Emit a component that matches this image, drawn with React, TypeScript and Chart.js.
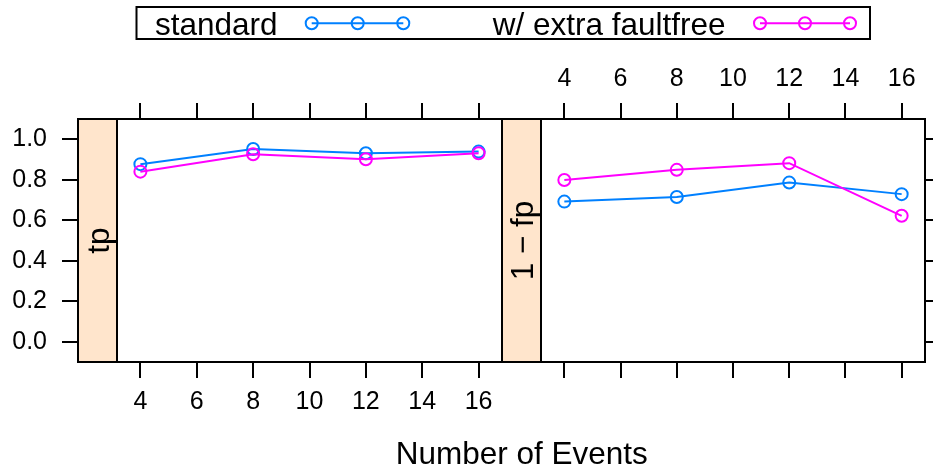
import React, { useEffect, useRef } from 'react';
import { Chart, registerables } from 'chart.js';

Chart.register(...registerables);

// ---------- data ----------
const xValues = [4, 8, 12, 16];
const xTickValues = [4, 6, 8, 10, 12, 14, 16];
const yTickValues = [0, 0.2, 0.4, 0.6, 0.8, 1.0];
const seriesNames = ['standard', 'w/ extra faultfree'];
const seriesColors = ['#0080ff', '#ff00ff'];
const panelNames = ['tp', '1 \u2212 fp'];
const tpStandard = [0.877, 0.952, 0.931, 0.939];
const tpExtra = [0.840, 0.926, 0.901, 0.931];
const fpStandard = [0.692, 0.715, 0.786, 0.729];
const fpExtra = [0.799, 0.849, 0.882, 0.622];
const xAxisTitle = 'Number of Events';

const X_MIN = 3.17;
const X_MAX = 16.83;
const Y_MIN = -0.1;
const Y_MAX = 1.1;

const FONT = '"Liberation Sans", Arial, Helvetica, sans-serif';
const TICK_FONT = { family: FONT, size: 25 };
const BIG = 31.5;

const setTicks = (vals: number[]) => (s: any) => {
  s.ticks = vals.map((v) => ({ value: v }));
};

const gridTicks = {
  drawOnChartArea: false,
  drawTicks: true,
  tickLength: 16,
  color: '#000',
  lineWidth: 2,
};

function makeDatasets(std: number[], extra: number[]) {
  const vals = [std, extra];
  return vals.map((arr, i) => ({
    label: seriesNames[i],
    data: xValues.map((x, j) => ({ x, y: arr[j] })),
    borderColor: seriesColors[i],
    backgroundColor: seriesColors[i],
    borderWidth: 2,
    pointRadius: 6,
    pointHoverRadius: 6,
    pointBorderWidth: 2,
    pointBackgroundColor: 'rgba(0,0,0,0)',
    pointBorderColor: seriesColors[i],
    fill: false,
    tension: 0,
    order: i === 0 ? 1 : 0,
  }));
}

function panelPlugin(name: string, withExtras: boolean) {
  return {
    id: 'panel_' + name.replace(/\W/g, ''),
    afterDraw(chart: any) {
      const ctx = chart.ctx as CanvasRenderingContext2D;
      const ca = chart.chartArea;
      const strip = chart.scales.ystrip;
      ctx.save();
      // strip
      ctx.fillStyle = '#ffe5cc';
      ctx.fillRect(strip.left, ca.top, strip.right - strip.left, ca.bottom - ca.top);
      ctx.strokeStyle = '#000';
      ctx.lineWidth = 2;
      ctx.strokeRect(strip.left, ca.top, strip.right - strip.left, ca.bottom - ca.top);
      ctx.strokeRect(ca.left, ca.top, ca.right - ca.left, ca.bottom - ca.top);
      // strip label
      ctx.save();
      ctx.translate(strip.right - 8.3, (ca.top + ca.bottom) / 2);
      ctx.rotate(-Math.PI / 2);
      ctx.font = `${BIG}px ${FONT}`;
      ctx.fillStyle = '#000';
      ctx.textAlign = 'center';
      ctx.textBaseline = 'alphabetic';
      ctx.fillText(name, 0, 0);
      ctx.restore();

      if (withExtras) {
        // legend
        ctx.lineWidth = 2;
        ctx.strokeStyle = '#000';
        ctx.strokeRect(136.5, 7, 733.5, 32);
        ctx.font = `${BIG}px ${FONT}`;
        ctx.fillStyle = '#000';
        ctx.textAlign = 'left';
        ctx.textBaseline = 'alphabetic';
        const items = [
          { textX: 155, symX: [311.7, 357.7, 403.3] },
          { textX: 492.7, symX: [760, 805, 850] },
        ];
        items.forEach((it, i) => {
          ctx.fillStyle = '#000';
          ctx.fillText(seriesNames[i], it.textX, 35);
          ctx.strokeStyle = seriesColors[i];
          ctx.lineWidth = 2;
          ctx.beginPath();
          ctx.moveTo(it.symX[0], 23.3);
          ctx.lineTo(it.symX[it.symX.length - 1], 23.3);
          ctx.stroke();
          it.symX.forEach((sx) => {
            ctx.beginPath();
            ctx.arc(sx, 23.3, 6, 0, Math.PI * 2);
            ctx.stroke();
          });
        });
        // x axis title
        ctx.fillStyle = '#000';
        ctx.textAlign = 'center';
        ctx.font = `${BIG}px ${FONT}`;
        ctx.fillText(xAxisTitle, 521.7, 464.3);
      }
      ctx.restore();
    },
  };
}

function stripScale() {
  return {
    type: 'linear',
    position: 'left',
    weight: 0,
    display: true,
    min: 0,
    max: 1,
    ticks: { display: false },
    grid: { display: false },
    border: { display: false },
    afterFit: (s: any) => {
      s.width = 39;
    },
  };
}

function config1(): any {
  return {
    type: 'line',
    data: { datasets: makeDatasets(tpStandard, tpExtra) },
    plugins: [panelPlugin(panelNames[0], true)],
    options: {
      animation: false,
      responsive: false,
      events: [],
      layout: { padding: { left: 0, right: 431, top: 103, bottom: 57 } },
      plugins: { legend: { display: false }, tooltip: { enabled: false } },
      scales: {
        x: {
          type: 'linear',
          position: 'bottom',
          min: X_MIN,
          max: X_MAX,
          afterBuildTicks: setTicks(xTickValues),
          ticks: { font: TICK_FONT, color: '#000', padding: 9, maxRotation: 0, autoSkip: false, callback: (v: any) => String(v) },
          grid: gridTicks,
          border: { display: false },
          afterFit: (s: any) => {
            s.height = 50;
          },
        },
        xTop: {
          type: 'linear',
          position: 'top',
          min: X_MIN,
          max: X_MAX,
          afterBuildTicks: setTicks(xTickValues),
          ticks: { display: false },
          grid: gridTicks,
          border: { display: false },
          afterFit: (s: any) => {
            s.height = 16;
          },
        },
        y: {
          type: 'linear',
          position: 'left',
          weight: 1,
          min: Y_MIN,
          max: Y_MAX,
          afterBuildTicks: setTicks(yTickValues),
          ticks: { font: TICK_FONT, color: '#000', padding: 15, callback: (v: any) => Number(v).toFixed(1) },
          grid: gridTicks,
          border: { display: false },
          afterFit: (s: any) => {
            s.width = 78;
          },
        },
        ystrip: stripScale(),
      },
    },
  };
}

function config2(): any {
  return {
    type: 'line',
    data: { datasets: makeDatasets(fpStandard, fpExtra) },
    plugins: [panelPlugin(panelNames[1], false)],
    options: {
      animation: false,
      responsive: false,
      events: [],
      layout: { padding: { left: 502, right: 0, top: 50, bottom: 91 } },
      plugins: { legend: { display: false }, tooltip: { enabled: false } },
      scales: {
        x: {
          type: 'linear',
          position: 'bottom',
          min: X_MIN,
          max: X_MAX,
          afterBuildTicks: setTicks(xTickValues),
          ticks: { display: false },
          grid: gridTicks,
          border: { display: false },
          afterFit: (s: any) => {
            s.height = 16;
          },
        },
        xTop: {
          type: 'linear',
          position: 'top',
          min: X_MIN,
          max: X_MAX,
          afterBuildTicks: setTicks(xTickValues),
          ticks: { font: TICK_FONT, color: '#000', padding: 9, maxRotation: 0, autoSkip: false, callback: (v: any) => String(v) },
          grid: gridTicks,
          border: { display: false },
          afterFit: (s: any) => {
            s.height = 69;
          },
        },
        y: {
          type: 'linear',
          position: 'right',
          min: Y_MIN,
          max: Y_MAX,
          afterBuildTicks: setTicks(yTickValues),
          ticks: { display: false },
          grid: gridTicks,
          border: { display: false },
          afterFit: (s: any) => {
            s.width = 6;
          },
        },
        ystrip: stripScale(),
      },
    },
  };
}

export default function App() {
  const ref1 = useRef<HTMLCanvasElement>(null);
  const ref2 = useRef<HTMLCanvasElement>(null);
  useEffect(() => {
    const c1 = new Chart(ref1.current as HTMLCanvasElement, config1());
    const c2 = new Chart(ref2.current as HTMLCanvasElement, config2());
    return () => {
      c1.destroy();
      c2.destroy();
    };
  }, []);
  return (
    <div style={{ position: 'absolute', left: 0, top: 0, width: 933, height: 469, background: '#fff' }}>
      <canvas ref={ref1} width={933} height={469} style={{ position: 'absolute', left: 0, top: 0 }} />
      <canvas ref={ref2} width={933} height={469} style={{ position: 'absolute', left: 0, top: 0 }} />
    </div>
  );
}
